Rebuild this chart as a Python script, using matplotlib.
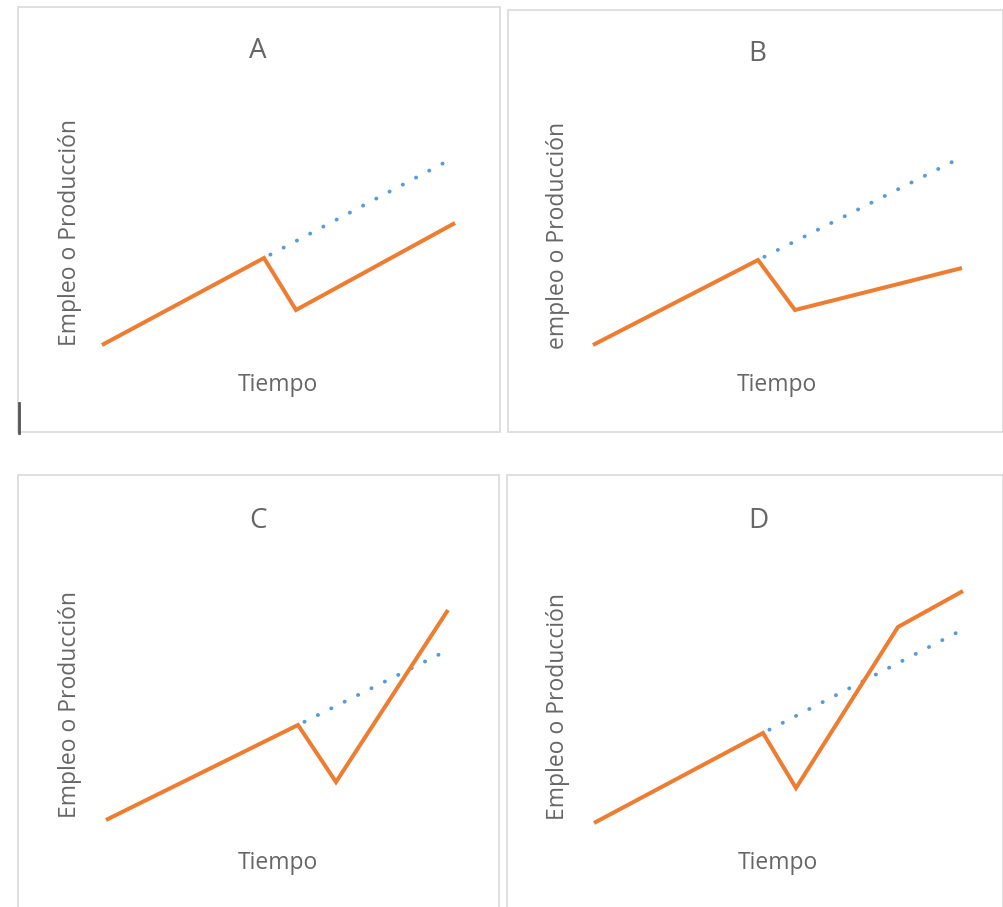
import matplotlib
matplotlib.use("Agg")
import matplotlib.pyplot as plt
from matplotlib.patches import Rectangle
from matplotlib.lines import Line2D

# ---- datos (tiempo, nivel) ----
titles = ["A", "B", "C", "D"]
ylabels = ["Empleo o Producción", "empleo o Producción",
           "Empleo o Producción", "Empleo o Producción"]
xlabel = "Tiempo"

a_t = [0.4, 16.6, 19.8, 35.7]
a_y = [1.2, 9.9, 4.7, 13.4]
a_trend_t = [16.6, 35.7]
a_trend_y = [9.9, 20.0]

b_t = [0.5, 17.0, 20.7, 37.4]
b_y = [1.2, 9.7, 4.7, 8.9]
b_trend_t = [17.0, 37.2]
b_trend_y = [9.7, 19.9]

c_t = [0.8, 20.0, 23.8, 35.0]
c_y = [0.5, 10.0, 4.3, 21.5]
c_trend_t = [20.0, 34.4]
c_trend_y = [10.0, 17.2]

d_t = [0.7, 17.6, 20.9, 31.1, 37.6]
d_y = [0.2, 9.2, 3.7, 19.8, 23.4]
d_trend_t = [17.6, 37.1]
d_trend_y = [9.2, 19.3]

series = [(a_t, a_y, a_trend_t, a_trend_y),
          (b_t, b_y, b_trend_t, b_trend_y),
          (c_t, c_y, c_trend_t, c_trend_y),
          (d_t, d_y, d_trend_t, d_trend_y)]

ORANGE = "#ED7D31"
BLUE = "#5B9BD5"
GRAY = "#666666"
BORDER = "#D9D9D9"

W, H = 1004, 907
plt.rcParams["font.family"] = ["Open Sans", "DejaVu Sans"]

fig = plt.figure(figsize=(W / 100, H / 100), dpi=100)


def rect(left, top, width, height):
    # pixel box -> figure fraction
    return [left / W, 1 - (top + height) / H, width / W, height / H]


# panel frames: left, top, right, bottom (px)
panels = [(18, 7, 500, 432), (508, 10, 1003, 432),
          (18, 475, 499, 912), (507, 475, 1003, 912)]
# plot area left/top per panel
plot_origin = [(98, 107), (588, 107), (98, 575), (587, 575)]
title_pos = [(258, 51), (757, 54), (258, 521), (758, 521)]
ylab_pos = [(70, 232), (558, 235), (70, 705), (558, 707)]
xlab_pos = [(278, 385), (777, 385), (278, 863), (778, 863)]

for i, (l, t, r, b) in enumerate(panels):
    fig.patches.append(Rectangle((l / W, 1 - b / H), (r - l) / W, (b - t) / H,
                                 transform=fig.transFigure, fill=False,
                                 edgecolor=BORDER, linewidth=1.2))

    x0, y0 = plot_origin[i]
    ax = fig.add_axes(rect(x0, y0, 390, 250))
    ax.set_xlim(0, 39)
    ax.set_ylim(0, 25)
    ax.axis("off")

    t_main, y_main, t_tr, y_tr = series[i]
    ax.plot(t_tr, y_tr, color=BLUE, linewidth=2.8,
            linestyle=(2.0, (0.05, 3.8)), dash_capstyle="round")
    ax.plot(t_main, y_main, color=ORANGE, linewidth=2.9,
            solid_joinstyle="miter", solid_capstyle="butt")

    tx, ty = title_pos[i]
    fig.text(tx / W, 1 - ty / H, titles[i], ha="center", va="center",
             fontsize=20, color=GRAY)
    lx, ly = ylab_pos[i]
    fig.text(lx / W, 1 - ly / H, ylabels[i], ha="center", va="center",
             rotation=90, fontsize=16.5, color=GRAY)
    xx, xy = xlab_pos[i]
    fig.text(xx / W, 1 - xy / H, xlabel, ha="center", va="center",
             fontsize=16.5, color=GRAY)

# small stray mark at the lower left of panel A
fig.lines.append(Line2D([19 / W, 19 / W], [1 - 403 / H, 1 - 433 / H],
                        transform=fig.transFigure, color="#555555",
                        linewidth=2))

fig.savefig("out.png", dpi=100, facecolor="white")
